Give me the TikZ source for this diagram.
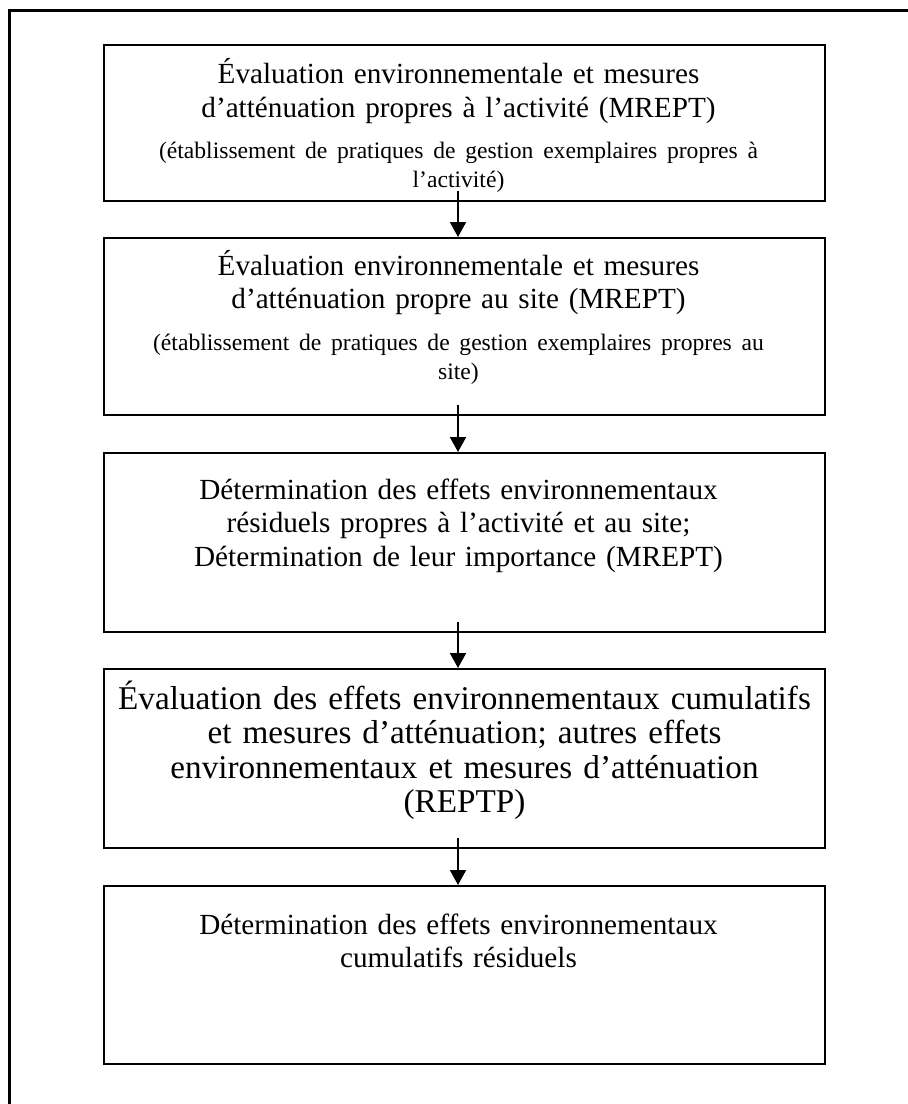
\documentclass[tikz,border=0pt]{standalone}
\usepackage{fontspec}
\setmainfont{Liberation Serif}
\usetikzlibrary{arrows.meta}
\newcommand{\bigtxt}{\fontsize{14.6pt}{16.75pt}\selectfont}
\newcommand{\hugetxt}{\fontsize{16.6pt}{17.15pt}\selectfont}
\newcommand{\smalltxt}{\fontsize{11.8pt}{14.5pt}\selectfont}
\tikzset{
  stepbox/.style={draw, line width=1pt, anchor=north, text width=355pt, align=center,
    inner xsep=2.75pt, inner ysep=0pt, font=\bigtxt,
    execute at begin node={\leftskip=0pt plus 1fill\rightskip=6pt plus 1fill}},
  flowarrow/.style={-{Triangle[width=8pt,length=7.5pt]}, line width=1pt},
}
\begin{document}
\begin{tikzpicture}[x=0.5pt,y=-0.5pt]
  \fill[white] (0,0) rectangle (908,1104);
  \useasboundingbox (0,0) rectangle (908,1104);
  % open frame round the chart
  \draw[line width=1.5pt] (9,1104) -- (9,10) -- (908,10);
  \node[stepbox, text height=19.25pt, text depth=58.75pt] (act) at (464.5,44)
    {Évaluation environnementale et mesures\\ d’atténuation propres à l’activité (MREPT)\par
     \vspace{6pt}{\smalltxt (établissement de pratiques de gestion exemplaires propres à\hspace*{12pt}\\ l’activité)\par}};
  \node[stepbox, text height=18.5pt, text depth=70pt] (site) at (464.5,237)
    {Évaluation environnementale et mesures\\ d’atténuation propre au site (MREPT)\par
     \vspace{6.25pt}{\smalltxt (établissement de pratiques de gestion exemplaires propres au\hspace*{12pt}\\ site)\par}};
  \node[stepbox, text height=23pt, text depth=66.5pt] (resid) at (464.5,452)
    {Détermination des effets environnementaux\\ résiduels propres à l’activité et au site;\\ Détermination de leur importance (MREPT)};
  \node[stepbox, font=\hugetxt, text height=20.25pt, text depth=69.25pt,
    execute at begin node={\leftskip=0pt plus 1fill\rightskip=0pt plus 1fill}] (cumul) at (464.5,668)
    {Évaluation des effets environnementaux cumulatifs\\ et mesures d’atténuation; autres effets\\ environnementaux et mesures d’atténuation\\ (REPTP)};
  \node[stepbox, text height=24pt, text depth=65pt] (final) at (464.5,885)
    {Détermination des effets environnementaux\\ cumulatifs résiduels};
  % arrows between the steps
  \draw[flowarrow] ([xshift=-3.25pt,yshift=5.5pt]act.south) -- ([xshift=-3.25pt]site.north);
  \draw[flowarrow] ([xshift=-3.25pt,yshift=5.5pt]site.south) -- ([xshift=-3.25pt]resid.north);
  \draw[flowarrow] ([xshift=-3.25pt,yshift=5.5pt]resid.south) -- ([xshift=-3.25pt]cumul.north);
  \draw[flowarrow] ([xshift=-3.25pt,yshift=5.5pt]cumul.south) -- ([xshift=-3.25pt]final.north);
\end{tikzpicture}
\end{document}
